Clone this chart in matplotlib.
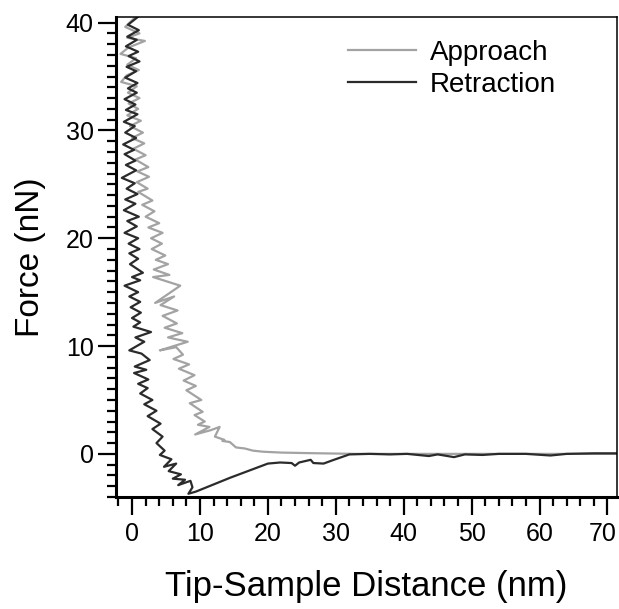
import matplotlib
matplotlib.use("Agg")
import matplotlib.pyplot as plt
import matplotlib.transforms as mtransforms
from matplotlib.ticker import MultipleLocator

# approach curve (gray), vertices: distance (nm), force (nN)
approach_x = [0.3, -1.0, 1.1, -0.7, 1.9, -0.5, -1.7, 0.6, -0.7, 1.0, -0.8, -1.6, 0.7, -0.6,
              1.1, -0.5, 0.9, -0.7, 1.3, -0.3, 1.6, 0.0, 1.8, 0.2, 2.0, 0.5, 2.4, 0.8, 2.5,
              0.7, 2.3, 0.9, 3.0, 1.5, 3.3, 2.0, 4.0, 2.4, 4.5, 2.8, 4.4, 2.9, 4.9, 3.5, 5.3,
              3.2, 5.5, 3.1, 7.1, 3.4, 6.2, 4.2, 6.7, 4.5, 6.6, 4.8, 7.4, 5.3, 8.2, 4.1, 6.5,
              7.5, 6.1, 8.4, 6.9, 9.2, 7.6, 9.4, 8.0, 10.2, 8.5, 10.4, 9.2, 10.7, 9.7, 11.4,
              9.3, 11.6, 12.9, 12.2, 13.6, 13.3, 14.4, 15.3, 16.6, 17.8, 19.3, 22.0, 26.0,
              30.0, 33.0, 40.0, 50.0, 60.0, 71.4]
approach_y = [40.4, 39.6, 39.0, 38.6, 38.3, 37.7, 37.1, 36.7, 36.1, 35.6, 35.1, 34.5, 34.1, 33.5,
              33.0, 32.5, 32.0, 31.4, 30.9, 30.4, 29.8, 29.3, 28.8, 28.3, 27.7, 27.3, 26.6, 26.2,
              25.7, 25.2, 24.6, 24.3, 23.5, 23.1, 22.5, 22.0, 21.4, 21.0, 20.5, 20.0, 19.5,
              19.0, 18.4, 18.0, 17.6, 17.1, 16.6, 16.4, 15.6, 14.0, 14.6, 13.8, 13.3, 12.8,
              12.1, 11.7, 11.2, 10.8, 10.4, 9.6, 9.9, 9.2, 8.8, 8.3, 7.9, 7.3, 6.8, 6.3, 5.9,
              5.0, 4.7, 3.9, 3.6, 3.0, 2.7, 2.5, 1.8, 2.2, 2.5, 1.6, 1.3, 1.2, 1.1, 0.6, 0.5,
              0.3, 0.2, 0.12, 0.07, 0.03, 0.0, 0.0, 0.0, 0.0, 0.0]

# retraction curve (dark), vertices
retract_x = [0.8, -0.6, 1.0, -0.7, 0.7, -0.9, 0.9, -0.5, 1.1, -0.8, 0.6, -1.0, 0.8, -0.6, 0.7,
             -1.1, 0.5, -0.9, 0.8, -1.2, 0.4, -1.0, 0.6, -1.3, 0.3, -1.1, 0.5, -0.9, 0.6, -1.5,
             0.4, -0.8, 0.8, -1.0, 0.5, -1.2, 1.0, -0.7, 0.7, -1.1,
             0.9, -0.5, 1.1, -0.4, 0.9, -0.3, 1.6, 0.0, 1.2, -1.1, 0.9, -0.4, 1.2, -0.2, 1.3,
             0.0, 1.2, 0.2, 2.8, 0.5, 1.8, -0.4, 1.4, 2.6, 0.4, 2.1, 0.3, 2.4, 0.9, 2.3, 1.2,
             3.0, 1.8, 3.6, 2.3, 4.2, 3.0, 4.5, 3.6, 4.8, 4.1, 5.8, 4.7, 6.5, 5.4, 7.2, 6.0,
             7.8, 6.8, 8.6, 8.9, 8.3, 9.4,
             14.5, 20.0, 21.8, 23.5, 24.0, 24.6, 26.3, 26.7, 28.2, 29.5, 32.0, 35.0, 38.0, 40.5,
             43.7, 45.0, 47.4, 49.0, 51.6, 54.0, 58.0, 61.6, 64.0, 68.0, 71.4]
retract_y = [40.5, 39.8, 39.3, 38.7, 38.4, 37.8, 37.3, 36.9, 36.4, 35.9, 35.5, 34.9, 34.4, 33.9,
             33.5, 32.9, 32.4, 31.9, 31.5, 30.8, 30.4, 29.8, 29.3, 28.7, 28.2, 27.8, 27.2, 26.8,
             26.3, 25.6, 25.1, 24.6, 24.1, 23.6, 23.2, 22.6, 22.0, 21.6, 21.1, 20.5, 20.0, 19.5,
             19.0, 18.6, 18.1, 17.6, 16.8, 16.4, 16.1, 15.6, 15.0, 14.6, 14.1, 13.6, 13.1, 12.6,
             12.2, 11.8, 11.3, 10.8, 10.4, 9.6, 9.3, 8.7, 8.1, 7.8, 7.5, 6.9, 6.5, 6.1, 5.6,
             5.0, 4.6, 4.0, 3.5, 2.8, 2.3, 1.6, 1.0, 0.3, -0.1, -0.5, -1.2, -0.9, -1.6, -1.9,
             -2.3, -2.4, -2.9, -2.5, -3.1, -3.7, -3.5, -2.2, -0.9, -0.8, -0.85, -1.1, -0.8,
             -0.55, -0.85, -0.9, -0.6, -0.05, 0.0, -0.05, 0.0, -0.2, -0.05, -0.3, -0.05, -0.1,
             0.0, 0.0, -0.15, 0.0, 0.05, 0.05]

plt.rcParams["font.family"] = ["Liberation Sans", "DejaVu Sans"]

fig = plt.figure(figsize=(6.19, 6.09), dpi=100, facecolor="white")
ax = fig.add_axes([116 / 619, 1 - 497 / 609, 501 / 619, 480.3 / 609])

ax.plot(approach_x, approach_y, color="#a3a3a3", lw=1.6, label="Approach")
ax.plot(retract_x, retract_y, color="#2b2b2b", lw=1.6, label="Retraction")

ax.set_xlim(-2.36, 71.4)
ax.set_ylim(-4.0, 40.55)

ax.xaxis.set_major_locator(MultipleLocator(10))
ax.xaxis.set_minor_locator(MultipleLocator(2))
ax.yaxis.set_major_locator(MultipleLocator(10))
ax.yaxis.set_minor_locator(MultipleLocator(1))

ax.tick_params(which="both", direction="out", top=False, right=False, width=1.6, color="black")
ax.tick_params(which="major", length=13, labelsize=18)
ax.tick_params(axis="x", which="major", pad=5)
ax.tick_params(axis="y", which="major", pad=3)
ax.tick_params(which="minor", length=6.5)

ax.spines["left"].set_linewidth(2.2)
ax.spines["bottom"].set_linewidth(2.2)
ax.spines["top"].set_linewidth(1.1)
ax.spines["right"].set_linewidth(1.1)

ax.set_xlabel("Tip-Sample Distance (nm)", fontsize=25, labelpad=17)
ax.set_ylabel("Force (nN)", fontsize=24, labelpad=14)

ax.legend(loc="upper left", bbox_to_anchor=(348 / 619, 1 - 40 / 609),
          bbox_transform=fig.transFigure, frameon=False, fontsize=20,
          handlelength=2.45, handletextpad=0.5, labelspacing=0.22,
          borderpad=0, borderaxespad=0)

# the "70" label sits right at the figure edge, nudge it in a little
fig.canvas.draw()
nudge = mtransforms.ScaledTranslation(-5 / 100, 0, fig.dpi_scale_trans)
for lab in ax.get_xticklabels():
    if lab.get_text() == "70":
        lab.set_transform(lab.get_transform() + nudge)

fig.savefig("out.png", dpi=100, facecolor="white")
